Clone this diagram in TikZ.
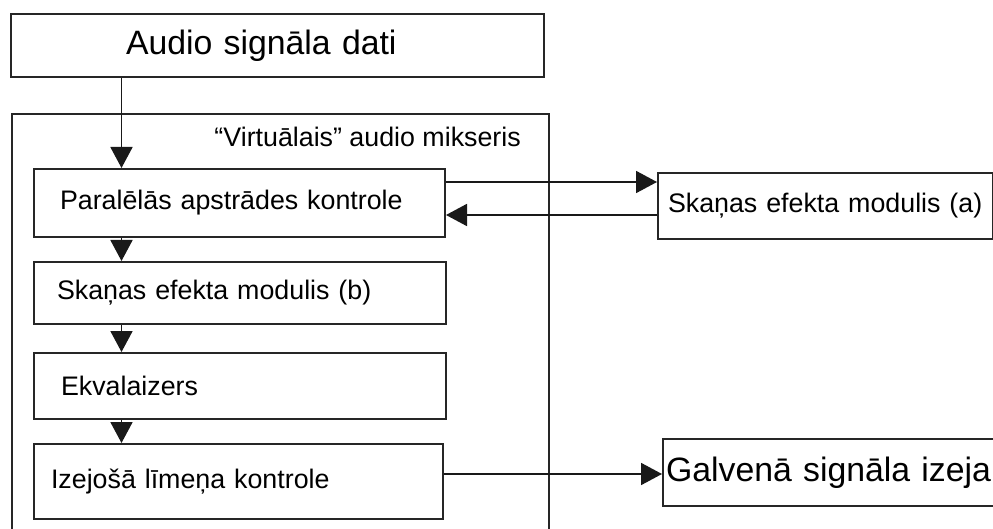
\documentclass[tikz,border=0pt]{standalone}
\usepackage{fontspec}
\setmainfont{Liberation Sans}
\usetikzlibrary{arrows.meta}

\newcommand{\mazs}{\fontsize{26.8pt}{32pt}\selectfont}
\newcommand{\liels}{\fontsize{33.8pt}{40pt}\selectfont}

\begin{document}
\begin{tikzpicture}[x=1pt, y=-1pt,
        kaste/.style={draw=black!85, line width=2pt, anchor=north west, inner ysep=0pt, align=left, font=\mazs},
        bulta/.style={-{Triangle[length=21pt, width=22pt]}, line width=1.8pt, draw=black!90}]
        \clip[use as bounding box] (0, 0) rectangle (993, 529);
        \fill[white] (0, 0) rectangle (993, 529);
        % ieeja
        \node[kaste, font=\liels, minimum height=63pt, text width=303pt, inner xsep=115pt] (avots) at (10, 13) {Audio signāla dati};
        % mikseris
        \node[kaste, minimum width=537pt, minimum height=460pt, inner sep=0pt] (mikseris) at (11, 113) {};
        \node[anchor=base east, font=\mazs, inner sep=0pt] (virsraksts) at (521, 147) {“Virtuālais” audio mikseris};
        \node[kaste, minimum height=68pt, text width=359pt, inner xsep=26pt] (paralelas) at (33, 168) {Paralēlās apstrādes kontrole};
        \node[kaste, minimum height=62pt, text width=366pt, inner xsep=23pt] (efektsB) at (33, 261) {Skaņas efekta modulis (b)};
        \node[kaste, minimum height=66pt, text width=358pt, inner xsep=27pt] (ekvalaizers) at (33, 352) {Ekvalaizers};
        \node[kaste, minimum height=75pt, text width=375pt, inner xsep=17pt] (izeja) at (33, 443) {Izejošā līmeņa kontrole};
        % arejie bloki
        \node[kaste, minimum height=66pt, text width=315pt, inner xsep=10pt] (efektsA) at (657, 172) {Skaņas efekta modulis (a)};
        \node[kaste, font=\liels, minimum height=67pt, text width=342pt, inner xsep=3pt] (galvena) at (662, 438) {Galvenā signāla izeja};
        % bultas
        \coordinate (vx) at (121.5, 0);
        \coordinate (h1) at (0, 182);
        \coordinate (h2) at (0, 215);
        \coordinate (h3) at (0, 474);
        \draw[bulta] (avots.south -| vx) -- (paralelas.north -| vx);
        \draw[bulta] (paralelas.south -| vx) -- (efektsB.north -| vx);
        \draw[bulta] (efektsB.south -| vx) -- (ekvalaizers.north -| vx);
        \draw[bulta] (ekvalaizers.south -| vx) -- (izeja.north -| vx);
        \draw[bulta] (paralelas.east |- h1) -- (efektsA.west |- h1);
        \draw[bulta] (efektsA.west |- h2) -- (paralelas.east |- h2);
        \draw[bulta] (izeja.east |- h3) -- (galvena.west |- h3);
\end{tikzpicture}
\end{document}
